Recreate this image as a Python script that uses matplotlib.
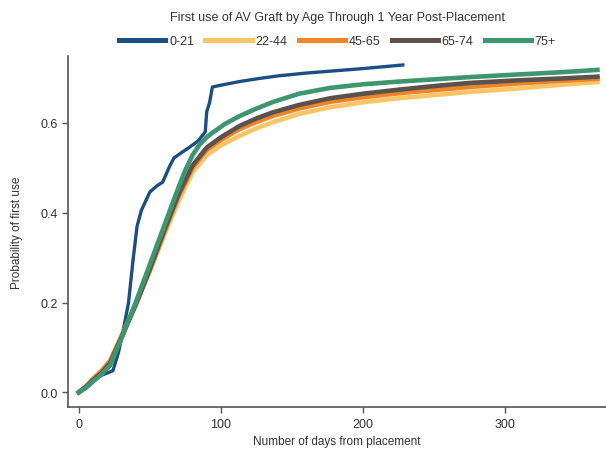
import matplotlib
matplotlib.use("Agg")
import matplotlib.pyplot as plt

plt.rcParams['font.family'] = ['Liberation Sans', 'DejaVu Sans']

title = "First use of AV Graft by Age Through 1 Year Post-Placement"
xlabel = "Number of days from placement"
ylabel = "Probability of first use"
labels = ["0-21", "22-44", "45-65", "65-74", "75+"]
colors = ["#1b4f82", "#fbc466", "#ee8527", "#5d514e", "#3e9670"]

days_0_21 = [0, 5, 10, 16, 20, 24, 28, 32, 35, 38, 41, 44, 50, 55, 59, 64, 67, 71, 78, 84, 89, 90, 92, 94, 100, 113, 127, 141, 160, 180, 200, 228]
prob_0_21 = [0, 0.012, 0.028, 0.038, 0.043, 0.048, 0.09, 0.15, 0.2, 0.29, 0.37, 0.405, 0.446, 0.46, 0.468, 0.504, 0.522, 0.531, 0.546, 0.56, 0.58, 0.625, 0.645, 0.68, 0.684, 0.692, 0.699, 0.705, 0.711, 0.716, 0.721, 0.729]

days_adult = [0, 5, 10, 16, 22, 30, 40, 50, 60, 70, 80, 90, 100, 113, 125, 137, 155, 177, 200, 225, 250, 275, 310, 340, 365]
prob_22_44 = [0, 0.012, 0.028, 0.045, 0.068, 0.125, 0.195, 0.27, 0.35, 0.425, 0.49, 0.528, 0.55, 0.571, 0.588, 0.602, 0.62, 0.635, 0.646, 0.655, 0.662, 0.669, 0.677, 0.685, 0.691]
prob_45_65 = [0, 0.013, 0.03, 0.048, 0.07, 0.125, 0.195, 0.272, 0.355, 0.435, 0.5, 0.54, 0.562, 0.586, 0.602, 0.616, 0.632, 0.647, 0.657, 0.666, 0.673, 0.68, 0.688, 0.694, 0.698]
prob_65_74 = [0, 0.012, 0.027, 0.043, 0.065, 0.122, 0.195, 0.275, 0.36, 0.44, 0.505, 0.545, 0.568, 0.593, 0.61, 0.624, 0.64, 0.655, 0.665, 0.674, 0.682, 0.689, 0.695, 0.699, 0.703]

days_75 = [0, 5, 10, 16, 22, 30, 40, 50, 60, 70, 75, 80, 85, 90, 94, 103, 113, 125, 137, 155, 177, 200, 225, 250, 275, 310, 340, 365]
prob_75 = [0, 0.01, 0.024, 0.04, 0.06, 0.12, 0.2, 0.285, 0.37, 0.455, 0.495, 0.528, 0.552, 0.568, 0.578, 0.598, 0.615, 0.632, 0.647, 0.665, 0.678, 0.686, 0.692, 0.697, 0.702, 0.708, 0.713, 0.718]

xticks = [0, 100, 200, 300]
yticks = [0.0, 0.2, 0.4, 0.6]

fig = plt.figure(figsize=(6.06, 4.56), dpi=100)
ax = fig.add_axes([0.112, 0.105, 0.888, 0.77])

series = [
    (days_0_21, prob_0_21, 2.4),
    (days_adult, prob_22_44, 3.3),
    (days_adult, prob_45_65, 3.3),
    (days_adult, prob_65_74, 3.3),
    (days_75, prob_75, 3.3),
]
for (d, p, lw), lab, c in zip(series, labels, colors):
    ax.plot(d, p, color=c, lw=lw, label=lab, solid_joinstyle='round')

ax.set_xlim(-7.7, 371)
ax.set_ylim(-0.033, 0.749)
ax.set_xticks(xticks)
ax.set_yticks(yticks)
ax.set_yticklabels([f"{v:.1f}" for v in yticks])
for s in ['top', 'right']:
    ax.spines[s].set_visible(False)
for s in ['left', 'bottom']:
    ax.spines[s].set_color('#555555')
    ax.spines[s].set_linewidth(1.2)
ax.tick_params(direction='out', length=4.5, width=1.0, color='#555555',
               labelsize=9, labelcolor='#333333', pad=3)
ax.set_xlabel(xlabel, fontsize=8.5, color='#333333', labelpad=4)
ax.set_ylabel(ylabel, fontsize=8.5, color='#333333', labelpad=12)

fig.text(0.557, 0.96, title, ha='center', va='center', fontsize=9, color='#333333')
leg = fig.legend(handles=[plt.Line2D([], [], color=c, lw=3.6) for c in colors],
                 labels=labels, loc='center', bbox_to_anchor=(0.557, 0.908),
                 ncol=5, frameon=False, fontsize=9, handlelength=3.7,
                 handletextpad=0.3, columnspacing=0.9, borderaxespad=0)
for t in leg.get_texts():
    t.set_color('#333333')

fig.savefig("out.png", dpi=100)
